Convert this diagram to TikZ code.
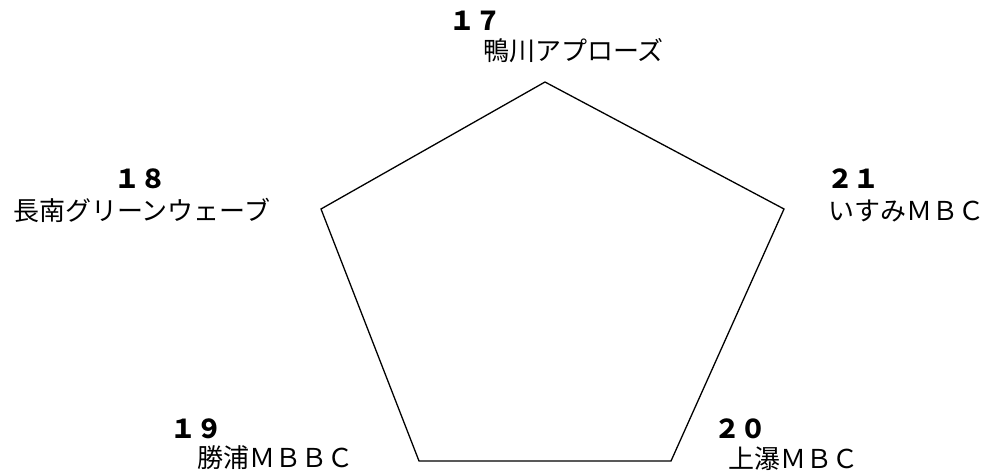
\documentclass[tikz,border=0pt]{standalone}
\usepackage{fontspec}
\newfontfamily\jp{Noto Sans CJK JP}
\tikzset{
  numlbl/.style={anchor=base west, inner sep=0pt, font=\jp\bfseries\fontsize{26}{30}\selectfont},
  namelbl/.style={anchor=base west, inner sep=0pt, font=\jp\fontsize{26}{30}\selectfont},
  edge/.style={line width=1.3pt, line join=miter}
}
\begin{document}
\begin{tikzpicture}[x=1pt,y=-1pt]
\useasboundingbox (0,0) rectangle (992,473);
\coordinate (vt) at (545,82);
\coordinate (vr) at (784,209);
\coordinate (vbr) at (671,461);
\coordinate (vbl) at (419,461);
\coordinate (vl) at (321,209);
\draw[edge] (vt) -- (vr) -- (vbr) -- (vbl) -- (vl) -- cycle;
\node[numlbl] (n17) at (449,31) {１７};
\node[namelbl] (t17) at (483,61) {鴨川アプローズ};
\node[numlbl] (n18) at (114,188) {１８};
\node[namelbl] (t18) at (13,220) {長南グリーンウェーブ};
\node[numlbl] (n21) at (827,188) {２１};
\node[namelbl] (t21) at (828,220) {いすみＭＢＣ};
\node[numlbl] (n19) at (170,438) {１９};
\node[namelbl] (t19) at (197,467) {勝浦ＭＢＢＣ};
\node[numlbl] (n20) at (714,438) {２０};
\node[namelbl] (t20) at (728,468) {上瀑ＭＢＣ};
\end{tikzpicture}
\end{document}
